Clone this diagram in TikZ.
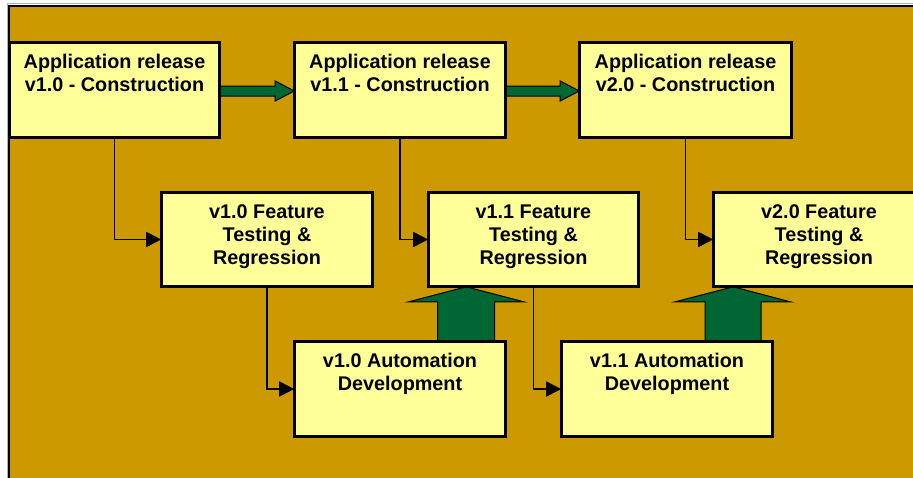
\documentclass[tikz,border=0pt]{standalone}
\usepackage{fontspec}
\setmainfont{Liberation Sans}
\usetikzlibrary{arrows.meta,calc}
\definecolor{gold}{HTML}{CC9900}
\definecolor{paleyel}{HTML}{FFFF99}
\definecolor{dkgreen}{HTML}{006633}
\tikzset{
  box/.style={draw=black, fill=paleyel, line width=1.6pt, rectangle, inner sep=0pt, minimum width=210pt},
  tallbox/.style={box, minimum height=94pt},
  midbox/.style={box, minimum height=93pt},
  lbl/.style={inner sep=0pt, align=center, anchor=north, font=\bfseries\fontsize{19.8}{23}\selectfont},
  conn/.style={draw=black, line width=1.8pt, -{Triangle[length=15pt,width=15pt]}},
  blockarrow/.style={fill=dkgreen, draw=black, line width=1pt, line join=miter}
}
\begin{document}
\begin{tikzpicture}[x=1pt,y=-1pt]
\clip (0,0) rectangle (913,477);
\fill[white] (0,0) rectangle (913,477);
\draw[black!30, line width=1pt] (7.5,3.5) rectangle (960,520);
\draw[fill=gold, draw=black, line width=2pt] (9,6) rectangle (960,520);

% boxes
\node[tallbox, minimum width=209pt] (a) at (114.5,90) {};
\node[tallbox] (b) at (400,90) {};
\node[tallbox, minimum width=211pt] (c) at (685.5,90) {};
\node[midbox] (d) at (267,239.5) {};
\node[midbox, minimum width=209pt] (f) at (533.5,239.5) {};
\node[midbox] (h) at (819,239.5) {};
\node[tallbox] (e) at (400,389) {};
\node[tallbox] (g) at (667,389) {};

% horizontal block arrows
\draw[blockarrow] ($(a.east)+(0,-4)$) -- ($(b.west)+(-19,-4)$) -- ($(b.west)+(-19,-9)$) -- ($(b.west)+(0,1)$) -- ($(b.west)+(-19,11)$) -- ($(b.west)+(-19,6)$) -- ($(a.east)+(0,6)$) -- cycle;
\draw[blockarrow] ($(b.east)+(0,-4)$) -- ($(c.west)+(-19,-4)$) -- ($(c.west)+(-19,-9)$) -- ($(c.west)+(0,1)$) -- ($(c.west)+(-19,11)$) -- ($(c.west)+(-19,6)$) -- ($(b.east)+(0,6)$) -- cycle;

% vertical block arrows
\coordinate (t1) at ($(f.south west)+(38,0)$);
\coordinate (t2) at ($(h.south west)+(20,0)$);
\draw[blockarrow] ($(t1 |- e.north)+(-28.5,0)$) -- ($(t1)+(-28.5,15)$) -- ($(t1)+(-57.5,15)$) -- (t1) -- ($(t1)+(57.5,15)$) -- ($(t1)+(28.5,15)$) -- ($(t1 |- e.north)+(28.5,0)$) -- cycle;
\draw[blockarrow] ($(t2 |- g.north)+(-28,0)$) -- ($(t2)+(-28,15)$) -- ($(t2)+(-58,15)$) -- (t2) -- ($(t2)+(57,15)$) -- ($(t2)+(28,15)$) -- ($(t2 |- g.north)+(28,0)$) -- cycle;

% redraw box borders on top
\foreach \n in {a,b,c,d,f,h,e,g}{
  \draw[line width=1.6pt] (\n.north west) rectangle (\n.south east);
}

% labels
\node[lbl] (ta) at ($(a.north)+(0,12)$) {Application release\\v1.0 - Construction};
\node[lbl] (tb) at ($(b.north)+(0,12)$) {Application release\\v1.1 - Construction};
\node[lbl] (tc) at ($(c.north)+(0,12)$) {Application release\\v2.0 - Construction};
\node[lbl] (td) at ($(d.north)+(0,12)$) {v1.0 Feature\\Testing \&\\Regression};
\node[lbl] (tf) at ($(f.north)+(0,12)$) {v1.1 Feature\\Testing \&\\Regression};
\node[lbl] (th) at ($(h.north)+(0,12)$) {v2.0 Feature\\Testing \&\\Regression};
\node[lbl] (te) at ($(e.north)+(0,12)$) {v1.0 Automation\\Development};
\node[lbl] (tg) at ($(g.north)+(0,12)$) {v1.1 Automation\\Development};

% connectors
\draw[conn] (a.south) |- (d.west);
\draw[conn] (b.south) |- (f.west);
\draw[conn] (c.south) |- (h.west);
\draw[conn] (d.south) |- (e.west);
\draw[conn] (f.south) |- (g.west);
\end{tikzpicture}
\end{document}
